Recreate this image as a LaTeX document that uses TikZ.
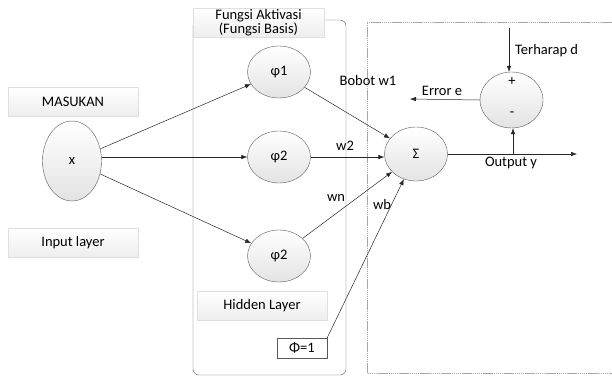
\documentclass[tikz,border=0pt]{standalone}
\usepackage{fontspec}
\setmainfont{Carlito}
\usetikzlibrary{shapes.geometric, arrows.meta}

\begin{document}
\begin{tikzpicture}[
    x=1pt, y=-1pt,
    font=\fontsize{14.5}{15}\selectfont,
    neuron/.style={ellipse, draw=gray!70!black, top color=white, bottom color=gray!22,
                   minimum width=63pt, minimum height=52pt, inner sep=0pt},
    caption/.style={rectangle, top color=white, bottom color=gray!14, draw=gray!25,
                    minimum width=130pt, minimum height=29pt, align=center, inner sep=1pt},
    lbl/.style={inner sep=0pt},
    arrow/.style={->, >={Latex[length=6pt,width=4.5pt]}, draw=gray!30!black, line width=0.5pt}
]
\useasboundingbox (0,0) rectangle (612,378);

% layer frames
\draw[gray!70!black, rounded corners=6pt] (193,20) rectangle (346,375);
\draw[gray!70, dash pattern=on 1.5pt off 0.6pt] (614,22) -- (367,22) -- (367,373) -- (614,373);

% captions
\node[caption] (masukan) at (73,102) {MASUKAN};
\node[caption] (inlayer) at (73,243) {Input layer};
\node[caption, minimum width=131pt, inner sep=0pt] (fungsi) at (258.5,22.5) {Fungsi Aktivasi\\[-1pt](Fungsi Basis)};
\node[caption] (hidden) at (262,306) {Hidden Layer};

% neurons
\node[neuron, minimum width=59pt, minimum height=80pt] (x) at (72,161) {x};
\node[neuron] (p1) at (279,72) {φ1};
\node[neuron] (p2) at (279,157) {φ2};
\node[neuron] (p3) at (279,256) {φ2};
\node[neuron, minimum height=54pt] (sig) at (416,154) {Σ};
\node[neuron, minimum height=56pt] (err) at (511.5,100) {};
\node[lbl] (plus) at (512,82) {+};
\node[lbl] (minus) at (512,114) {-};
\node[draw=gray!70!black, fill=white, minimum width=50pt, minimum height=20pt, inner sep=0pt] (bias) at (302,348) {Φ=1};

\coordinate (out) at (577,154);
\coordinate (tap) at (513,154);
\coordinate (dsrc) at (509,28);
\coordinate (eout) at (410,99);

% connections
\draw[arrow] (x) -- (p1);
\draw[arrow] (x.east |- p2.west) -- (p2.west);
\draw[arrow] (x) -- (p3);
\draw[arrow] (p1) -- (sig);
\draw[arrow] (p2.east) -- (sig.west |- p2.east);
\draw[arrow] (p3) -- (sig);
\draw[arrow] (bias.north east) -- (sig);
\draw[arrow] (sig.east) -- (out);
\draw[arrow] (tap) -- (tap |- err.south);
\draw[arrow] (dsrc) -- (dsrc |- err.north);
\draw[arrow] (err.west) -- (eout);

\node[lbl] (bw1) at (368,81) {Bobot w1};
\node[lbl] (w2) at (345,146) {w2};
\node[lbl] (wn) at (336,198) {wn};
\node[lbl] (wb) at (382,205) {wb};
\node[lbl] (errlbl) at (442,91) {Error e};
\node[lbl] (outlbl) at (511,163) {Output y};
\node[lbl, anchor=west] (dlbl) at (515,51) {Terharap d};
\end{tikzpicture}
\end{document}
